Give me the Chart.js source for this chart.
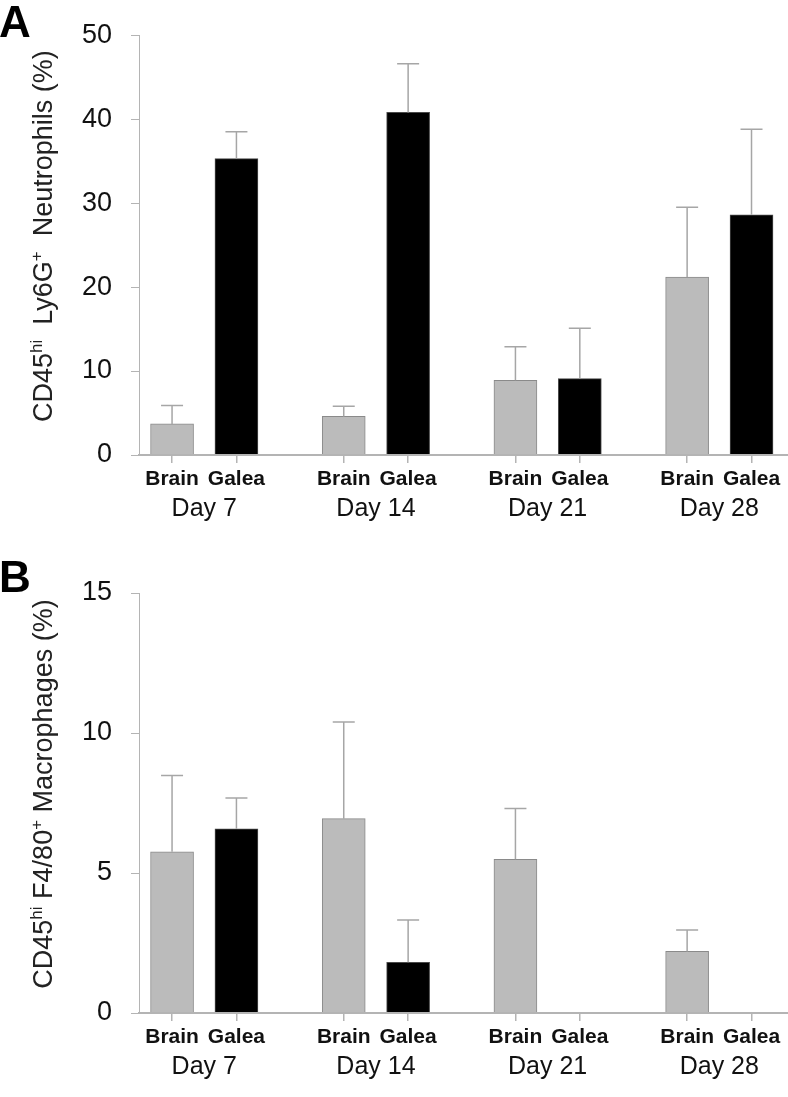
<!DOCTYPE html>
<html>
<head>
<meta charset="utf-8">
<script src="https://cdn.jsdelivr.net/npm/chart.js@4/dist/chart.umd.min.js"></script>
<style>
    html, body { margin: 0; padding: 0; background: #ffffff; }
    #wrap { position: relative; width: 788px; height: 1097px; overflow: hidden; }
    canvas { position: absolute; left: 0; }
    #chartA { top: 0; }
    #chartB { top: 548px; }
</style>
</head>
<body>
<div id="wrap">
    <canvas id="chartA" width="788" height="548"></canvas>
    <canvas id="chartB" width="788" height="549"></canvas>
</div>
<script>
// Data
const days = ['Day 7', 'Day 14', 'Day 21', 'Day 28'];
const tissues = ['Brain', 'Galea'];

const neutroBrain = [3.7, 4.6, 8.9, 21.2];
const neutroBrainErr = [2.2, 1.2, 4.0, 8.3];
const neutroGalea = [35.3, 40.8, 9.1, 28.6];
const neutroGaleaErr = [3.2, 5.8, 6.0, 10.2];

const macroBrain = [5.76, 6.94, 5.49, 2.20];
const macroBrainErr = [2.72, 3.45, 1.81, 0.76];
const macroGalea = [6.58, 1.81, 0, 0];
const macroGaleaErr = [1.10, 1.51, 0, 0];

const neutroTicks = [0, 10, 20, 30, 40, 50];
const macroTicks = [0, 5, 10, 15];

const titleA = [['CD45', false], ['hi', true], ['  Ly6G', false], ['+', true], ['  Neutrophils (%)', false]];
const titleB = [['CD45', false], ['hi', true], [' F4/80', false], ['+', true], [' Macrophages (%)', false]];

const FONT = '"Liberation Sans", Arial, sans-serif';
const axisGrey = '#b4b4b4';
const barShift = 0.1875;

// draws error bars, rotated y title and panel letter
const decorPlugin = {
    id: 'decor',
    afterDatasetsDraw(chart, args, opts) {
        const ctx = chart.ctx;
        const yScale = chart.scales.y;
        ctx.save();
        chart.data.datasets.forEach((ds, di) => {
            const meta = chart.getDatasetMeta(di);
            meta.data.forEach((bar, i) => {
                const val = ds.data[i].y;
                const err = ds.errors[i];
                if (!err) return;
                const yTop = yScale.getPixelForValue(val + err);
                const yBar = yScale.getPixelForValue(val);
                ctx.strokeStyle = '#a6a6a6';
                ctx.lineWidth = 1.5;
                ctx.beginPath();
                ctx.moveTo(bar.x, yBar);
                ctx.lineTo(bar.x, yTop);
                ctx.moveTo(bar.x - 11, yTop);
                ctx.lineTo(bar.x + 11, yTop);
                ctx.stroke();
            });
        });
        ctx.restore();
    },
    afterDraw(chart, args, opts) {
        const ctx = chart.ctx;
        const area = chart.chartArea;
        ctx.save();
        // panel letter
        ctx.fillStyle = '#000';
        ctx.font = 'bold 44px ' + FONT;
        ctx.textBaseline = 'alphabetic';
        ctx.textAlign = 'left';
        ctx.fillText(opts.letter, -1, opts.letterY);

        // rotated axis title with superscripts
        const mainFont = '27px ' + FONT;
        const supFont = '17px ' + FONT;
        let total = 0;
        opts.title.forEach(([txt, sup]) => {
            ctx.font = sup ? supFont : mainFont;
            total += ctx.measureText(txt).width;
        });
        const cy = (area.top + area.bottom) / 2 - 9;
        ctx.translate(52, cy);
        ctx.rotate(-Math.PI / 2);
        ctx.fillStyle = '#222';
        let x = -total / 2;
        opts.title.forEach(([txt, sup]) => {
            ctx.font = sup ? supFont : mainFont;
            ctx.fillText(txt, x, sup ? -10 : 0);
            x += ctx.measureText(txt).width;
        });
        ctx.restore();
    }
};

function makePanel(canvasId, brain, brainErr, galea, galeaErr, yTicks, title, letter, letterY, padTop, padBottom) {
    const barPositions = [];
    days.forEach((d, g) => {
        barPositions.push(g + 1 - barShift, g + 1 + barShift);
    });
    const yMax = yTicks[yTicks.length - 1];

    return new Chart(document.getElementById(canvasId), {
        type: 'bar',
        data: {
            datasets: [{
                label: tissues[0],
                data: brain.map((v, i) => ({ x: i + 1 - barShift, y: v })),
                errors: brainErr,
                backgroundColor: '#bbbbbb',
                borderColor: '#8a8a8a',
                borderWidth: 1,
                borderSkipped: 'bottom',
                barThickness: 43,
                grouped: false
            }, {
                label: tissues[1],
                data: galea.map((v, i) => ({ x: i + 1 + barShift, y: v })),
                errors: galeaErr,
                backgroundColor: '#000000',
                borderColor: '#4a4a4a',
                borderWidth: 1,
                borderSkipped: 'bottom',
                barThickness: 43,
                grouped: false
            }]
        },
        options: {
            responsive: false,
            animation: false,
            layout: {
                padding: { top: padTop, bottom: padBottom, left: 0, right: 0 }
            },
            plugins: {
                legend: { display: false },
                tooltip: { enabled: false },
                decor: { title: title, letter: letter, letterY: letterY }
            },
            scales: {
                x: {
                    type: 'linear',
                    position: 'bottom',
                    offset: false,
                    min: 0.62,
                    max: 4.4,
                    afterBuildTicks: (scale) => {
                        scale.ticks = barPositions.map(v => ({ value: v }));
                    },
                    afterFit: (scale) => { scale.height = 36; },
                    grid: {
                        offset: false,
                        drawOnChartArea: false,
                        drawTicks: true,
                        tickLength: 8,
                        tickColor: axisGrey,
                        lineWidth: 1.5
                    },
                    border: { display: true, color: axisGrey, width: 2, z: 1 },
                    ticks: {
                        autoSkip: false,
                        maxRotation: 0,
                        minRotation: 0,
                        padding: 4,
                        color: '#111',
                        font: { family: FONT, size: 21, weight: 'bold' },
                        callback: (value, index) => tissues[index % 2]
                    }
                },
                xDay: {
                    type: 'linear',
                    position: 'bottom',
                    offset: false,
                    min: 0.62,
                    max: 4.4,
                    afterBuildTicks: (scale) => {
                        scale.ticks = days.map((d, i) => ({ value: i + 1 }));
                    },
                    afterFit: (scale) => { scale.height = 40; },
                    grid: { display: false, drawTicks: false, offset: false },
                    border: { display: false },
                    ticks: {
                        autoSkip: false,
                        maxRotation: 0,
                        minRotation: 0,
                        padding: 3,
                        color: '#111',
                        font: { family: FONT, size: 25 },
                        callback: (value, index) => days[index]
                    }
                },
                y: {
                    min: 0,
                    max: yMax,
                    afterBuildTicks: (scale) => {
                        scale.ticks = yTicks.map(v => ({ value: v }));
                    },
                    afterFit: (scale) => { scale.width = 139; },
                    grid: {
                        drawOnChartArea: false,
                        drawTicks: true,
                        tickLength: 8,
                        tickColor: axisGrey,
                        lineWidth: 1
                    },
                    border: { display: true, color: axisGrey, width: 1 },
                    ticks: {
                        padding: 19,
                        color: '#111',
                        font: { family: FONT, size: 27 }
                    }
                }
            }
        },
        plugins: [decorPlugin]
    });
}

makePanel('chartA', neutroBrain, neutroBrainErr, neutroGalea, neutroGaleaErr,
    neutroTicks, titleA, 'A', 37, 25, 17);
makePanel('chartB', macroBrain, macroBrainErr, macroGalea, macroGaleaErr,
    macroTicks, titleB, 'B', 44, 45, 8);
</script>
</body>
</html>
